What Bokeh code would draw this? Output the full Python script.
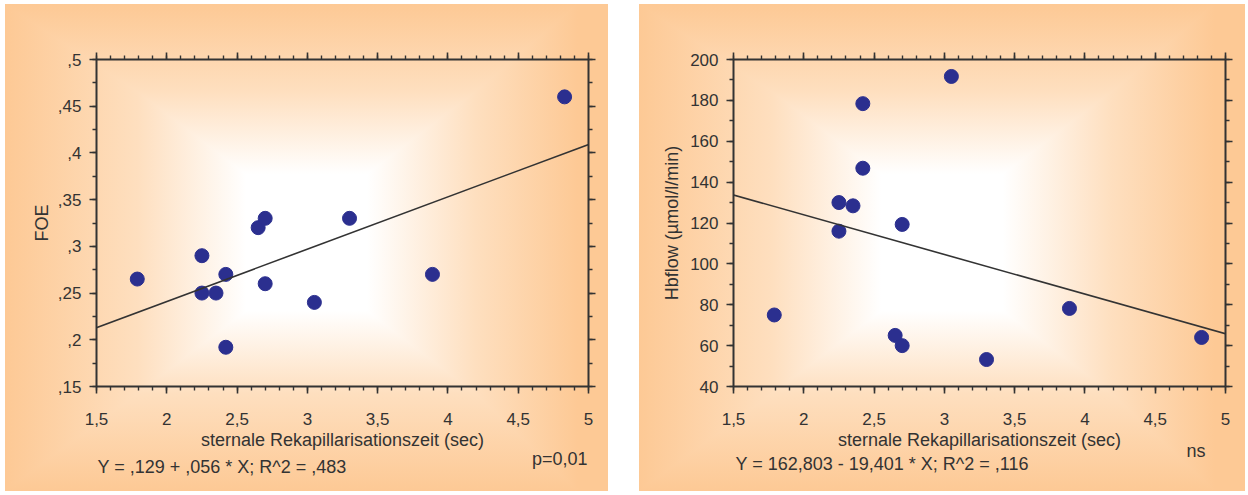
import numpy as np
from bokeh.plotting import figure
from bokeh.models import (LinearAxis, FixedTicker, Label, CustomJSTickFormatter,
                          Range1d, Slope)
from bokeh.layouts import row
from bokeh.embed import file_html
from bokeh.resources import INLINE

# ---------------- data ----------------
rekap_time = [1.79, 2.25, 2.25, 2.35, 2.42, 2.42, 2.65, 2.70, 2.70, 3.05, 3.30, 3.89, 4.83]
foe = [0.265, 0.29, 0.25, 0.25, 0.27, 0.192, 0.32, 0.33, 0.26, 0.24, 0.33, 0.27, 0.46]
rekap_time_hb = [1.79, 2.25, 2.25, 2.35, 2.42, 2.42, 2.65, 2.70, 2.70, 3.05, 3.30, 3.89, 4.83]
hbflow = [75, 130, 116, 128.4, 178.4, 146.8, 65, 60, 119.3, 191.7, 53.2, 78.2, 64]

foe_intercept, foe_slope = 0.129, 0.056
hb_intercept, hb_slope = 162.803, -19.401

x_ticks = [1.5, 2, 2.5, 3, 3.5, 4, 4.5, 5]
x_tick_labels = ["1,5", "2", "2,5", "3", "3,5", "4", "4,5", "5"]
foe_ticks = [0.15, 0.2, 0.25, 0.3, 0.35, 0.4, 0.45, 0.5]
foe_tick_labels = [",15", ",2", ",25", ",3", ",35", ",4", ",45", ",5"]
hb_ticks = [40, 60, 80, 100, 120, 140, 160, 180, 200]
hb_tick_labels = ["40", "60", "80", "100", "120", "140", "160", "180", "200"]

x_label = "sternale Rekapillarisationszeit (sec)"
foe_label = "FOE"
hb_label = "Hbflow (\u00b5mol/l/min)"
foe_eq = "Y = ,129 + ,056 * X; R^2 = ,483"
hb_eq = "Y = 162,803 - 19,401 * X; R^2 = ,116"
foe_p = "p=0,01"
hb_p = "ns"

# ---------------- style ----------------
FONT = "Liberation Sans"
TXT = "#333333"
AX = "#333333"
DOT = "#2B2F8F"
ORANGE = "#FDC995"
MID = "#FEDFBF"
BG = {
    "background-image": (
        f"linear-gradient(to right, {ORANGE} 0%, {MID} 22%, #FFFFFF 40%, #FFFFFF 60%, "
        f"{MID} 78%, {ORANGE} 95%, {ORANGE} 100%), "
        f"linear-gradient(to bottom, {ORANGE} 0%, {MID} 18%, #FFFFFF 35%, #FFFFFF 63%, "
        f"{MID} 80%, {ORANGE} 100%)"
    ),
    "background-blend-mode": "darken",
}

x_minor = [round(v, 2) for v in np.arange(1.5, 5.001, 0.1)]
foe_minor = [round(v, 3) for v in np.arange(0.15, 0.5001, 0.025)]
hb_minor = [round(v, 1) for v in np.arange(40, 200.1, 10)]


def style_axis(ax, ticks, minor, labels=None, blank=False):
    ax.ticker = FixedTicker(ticks=ticks, minor_ticks=minor)
    if blank:
        ax.formatter = CustomJSTickFormatter(code="return ''")
        ax.major_label_standoff = 0
    else:
        ax.major_label_overrides = {t: l for t, l in zip(ticks, labels)}
    ax.axis_line_color = AX
    ax.axis_line_width = 2
    ax.major_tick_line_color = AX
    ax.major_tick_line_width = 1.6
    ax.minor_tick_line_color = AX
    ax.minor_tick_line_width = 1.4
    ax.major_tick_in = 0
    ax.major_tick_out = 7
    ax.minor_tick_in = 0
    ax.minor_tick_out = 4
    ax.major_label_text_font = FONT
    ax.major_label_text_font_size = "17px"
    ax.major_label_text_color = TXT
    ax.axis_label_text_font = FONT
    ax.axis_label_text_font_size = "18px"
    ax.axis_label_text_font_style = "normal"
    ax.axis_label_text_color = TXT


def make_panel(xs, ys, y_range, y_ticks, y_minor, y_labels, y_title,
               intercept, slope, eq, ptxt, width, left, bottom,
               eq_pos, p_pos, ylab_standoff):
    p = figure(width=width, height=487, output_backend="svg", toolbar_location=None,
               x_range=Range1d(1.5, 5), y_range=Range1d(*y_range),
               min_border_left=left, min_border_right=20, min_border_top=55,
               min_border_bottom=bottom, x_axis_location=None, y_axis_location=None)
    p.background_fill_color = None
    p.border_fill_color = None
    p.outline_line_color = None
    p.xgrid.visible = False
    p.ygrid.visible = False
    p.styles = BG

    xb = LinearAxis(axis_label=x_label)
    style_axis(xb, x_ticks, x_minor, x_tick_labels)
    xb.major_label_standoff = 19
    xb.axis_label_standoff = 2
    p.add_layout(xb, "below")
    xt = LinearAxis()
    style_axis(xt, x_ticks, x_minor, blank=True)
    p.add_layout(xt, "above")

    yl = LinearAxis(axis_label=y_title)
    style_axis(yl, y_ticks, y_minor, y_labels)
    yl.major_label_standoff = 8
    yl.axis_label_standoff = ylab_standoff
    p.add_layout(yl, "left")
    yr = LinearAxis()
    style_axis(yr, y_ticks, y_minor, blank=True)
    p.add_layout(yr, "right")

    p.add_layout(Slope(gradient=slope, y_intercept=intercept,
                       line_color=AX, line_width=1.6))
    p.scatter(xs, ys, size=14, color=DOT, line_color=DOT)

    # texts drawn at canvas positions; hosted in side panels so they are not frame-clipped
    p.add_layout(Label(x=eq_pos[0], y=eq_pos[1], x_units="canvas", y_units="canvas",
                       text=eq, text_font=FONT, text_font_size="18px", text_color=TXT,
                       text_align="left", text_baseline="middle"), "below")
    p.add_layout(Label(x=p_pos[0], y=p_pos[1], x_units="canvas", y_units="canvas",
                       text=ptxt, text_font=FONT, text_font_size="18px", text_color=TXT,
                       text_align="right", text_baseline="middle"), "above")
    return p


p1 = make_panel(rekap_time, foe, (0.15, 0.5), foe_ticks, foe_minor, foe_tick_labels,
                foe_label, foe_intercept, foe_slope, foe_eq, foe_p,
                width=603, left=91, bottom=103, eq_pos=(92, 462), p_pos=(582, 454),
                ylab_standoff=3)
p2 = make_panel(rekap_time_hb, hbflow, (40, 200), hb_ticks, hb_minor, hb_tick_labels,
                hb_label, hb_intercept, hb_slope, hb_eq, hb_p,
                width=606, left=94, bottom=105, eq_pos=(96, 459), p_pos=(566, 446),
                ylab_standoff=5)
p1.margin = (4, 0, 4, 5)
p2.margin = (4, 3, 4, 31)

layout = row(p1, p2)
layout.margin = 0
layout.spacing = 0

open("out.html", "w").write(file_html(layout, INLINE))
